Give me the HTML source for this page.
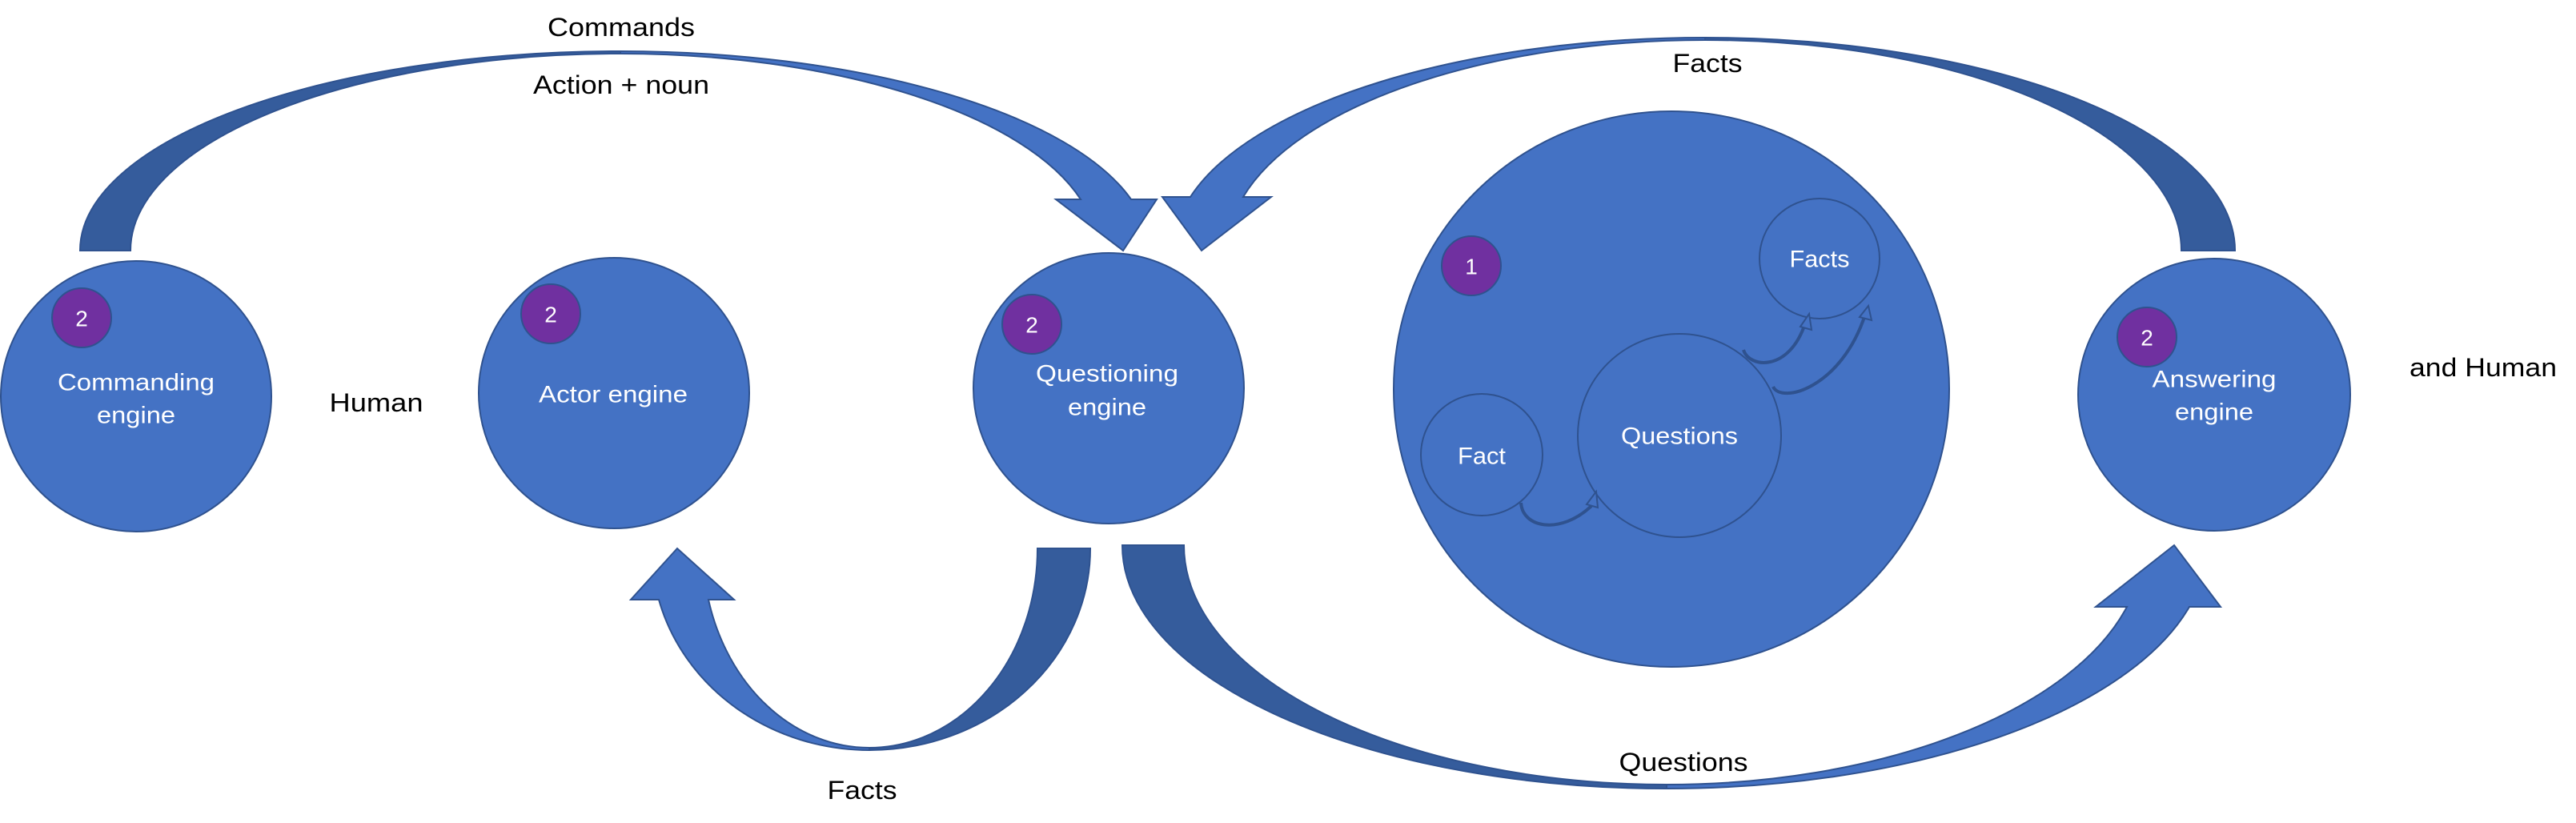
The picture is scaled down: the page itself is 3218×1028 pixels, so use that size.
<!DOCTYPE html>
<html><head><meta charset="utf-8"><style>
html,body{margin:0;padding:0;background:#fff;}
svg{display:block;}
text{font-family:"Liberation Sans",sans-serif;}
</style></head><body>
<svg width="3218" height="1028" viewBox="0 0 3218 1028" xmlns="http://www.w3.org/2000/svg">
<g stroke="#2f528f" stroke-width="2">
<!-- A1 Commands -->
<path fill="#355c9c" d="M100,313 A675,249 0 0 1 775,64 L775,67 A612,246 0 0 0 163,313 Z"/>
<path fill="#4472c4" d="M775,64 A660,249 0 0 1 1413,249 L1445,249 L1403,313 L1319,249 L1350,249 A596,246 0 0 0 775,67 Z"/>
<!-- A2 Facts top -->
<path fill="#355c9c" d="M2130,47 A662,266 0 0 1 2792,313 L2725,313 A595,263 0 0 0 2130,50 Z"/>
<path fill="#4472c4" d="M1487,246 A664,266 0 0 1 2130,47 L2130,50 A597,263 0 0 0 1553,246 L1588,246 L1501,313 L1452,246 Z"/>
<!-- A3 Facts bottom -->
<path fill="#355c9c" d="M1362,685 A276,252 0 0 1 1086,937 L1086,934 A210,249 0 0 0 1296,685 Z"/>
<path fill="#4472c4" d="M1086,937 A272,252 0 0 1 823,749 L788,749 L846,685 L917,749 L885,749 A208,249 0 0 0 1086,934 Z"/>
<!-- A4 Questions bottom -->
<path fill="#355c9c" d="M1402,681 A680,304 0 0 0 2082,985 L2082,980 A603,299 0 0 1 1479,681 Z"/>
<path fill="#4472c4" d="M2082,985 A675,304 0 0 0 2735,758 L2774,758 L2716,681 L2618,758 L2657,758 A595,299 0 0 1 2082,980 Z"/>
</g>
<g fill="#4472c4" stroke="#2f528f" stroke-width="2">
<circle cx="170" cy="495" r="169"/>
<circle cx="767" cy="491" r="169"/>
<circle cx="1385" cy="485" r="169"/>
<circle cx="2088" cy="486" r="347"/>
<circle cx="2766" cy="493" r="170"/>
<circle cx="2273" cy="323" r="75"/>
<circle cx="1851" cy="568" r="76"/>
<circle cx="2098" cy="544" r="127"/>
</g>
<g fill="none" stroke="#2f528f" stroke-width="4">
<path d="M1900,628 C1902,660 1950,668 1988,632"/>
<path d="M2178,437 C2185,460 2235,465 2255,404"/>
<path d="M2215,483 C2225,505 2300,485 2330,393"/>
</g>
<g fill="#4472c4" stroke="#2f528f" stroke-width="2">
<path d="M1982,630 L1994,614 L1996,634 Z"/>
<path d="M2249,408 L2260,392 L2263,412 Z"/>
<path d="M2323,396 L2334,382 L2338,400 Z"/>
</g>
<g fill="#7030a0" stroke="#2f528f" stroke-width="2">
<circle cx="102" cy="397" r="37"/>
<circle cx="688" cy="392" r="37"/>
<circle cx="1289" cy="405" r="37"/>
<circle cx="1838" cy="332" r="37"/>
<circle cx="2682" cy="421" r="37"/>
</g>
<g fill="#fff" font-size="28" text-anchor="middle" dominant-baseline="central">
<text x="102" y="398">2</text>
<text x="688" y="393">2</text>
<text x="1289" y="406">2</text>
<text x="1838" y="333">1</text>
<text x="2682" y="422">2</text>
</g>
<g fill="#fff" font-size="30" text-anchor="middle" dominant-baseline="central" lengthAdjust="spacingAndGlyphs">
<text x="170" y="478" textLength="196" lengthAdjust="spacingAndGlyphs">Commanding</text>
<text x="170" y="519" textLength="98" lengthAdjust="spacingAndGlyphs">engine</text>
<text x="766" y="493" textLength="186" lengthAdjust="spacingAndGlyphs">Actor engine</text>
<text x="1383" y="467" textLength="178" lengthAdjust="spacingAndGlyphs">Questioning</text>
<text x="1383" y="509" textLength="98" lengthAdjust="spacingAndGlyphs">engine</text>
<text x="2766" y="474" textLength="155" lengthAdjust="spacingAndGlyphs">Answering</text>
<text x="2766" y="515" textLength="98" lengthAdjust="spacingAndGlyphs">engine</text>
<text x="2273" y="324" textLength="75" lengthAdjust="spacingAndGlyphs">Facts</text>
<text x="1851" y="570" textLength="60" lengthAdjust="spacingAndGlyphs">Fact</text>
<text x="2098" y="545" textLength="146" lengthAdjust="spacingAndGlyphs">Questions</text>
</g>
<g fill="#000" font-size="32" text-anchor="middle" dominant-baseline="central">
<text x="776" y="34" textLength="184" lengthAdjust="spacingAndGlyphs">Commands</text>
<text x="776" y="106" textLength="220" lengthAdjust="spacingAndGlyphs">Action + noun</text>
<text x="2133" y="79" textLength="87" lengthAdjust="spacingAndGlyphs">Facts</text>
<text x="470" y="503" textLength="117" lengthAdjust="spacingAndGlyphs">Human</text>
<text x="3102" y="459" textLength="184" lengthAdjust="spacingAndGlyphs">and Human</text>
<text x="1077" y="987" textLength="87" lengthAdjust="spacingAndGlyphs">Facts</text>
<text x="2103" y="952" textLength="161" lengthAdjust="spacingAndGlyphs">Questions</text>
</g>
</svg>
</body></html>
